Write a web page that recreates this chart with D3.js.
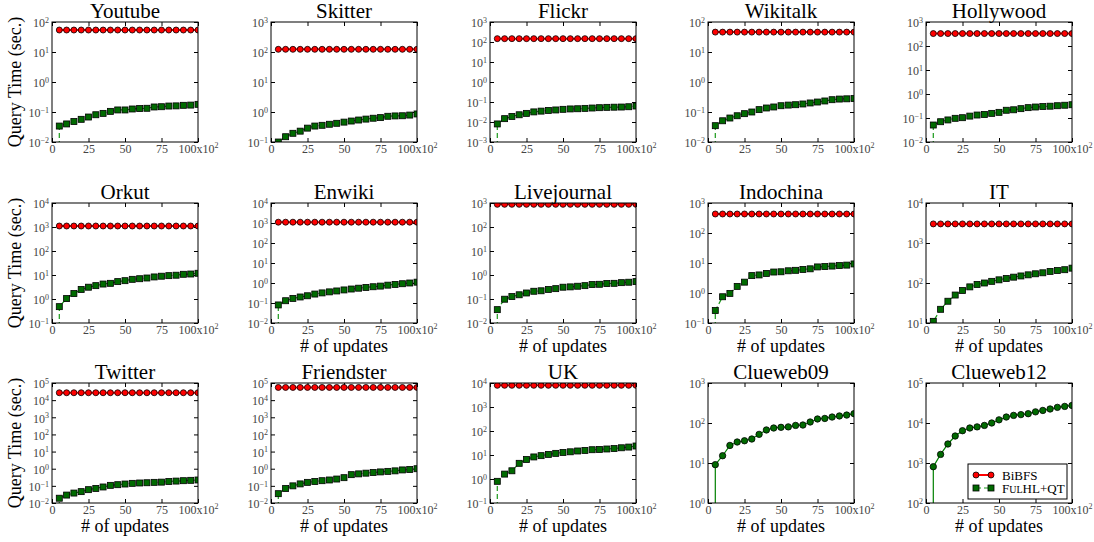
<!DOCTYPE html>
<html>
<head>
<meta charset="utf-8">
<script src="https://cdn.jsdelivr.net/npm/d3@7"></script>
<style>
  html, body { margin: 0; padding: 0; background: #fff; }
  svg { display: block; }
  text { font-family: "Liberation Serif", "DejaVu Serif", serif; }
</style>
</head>
<body>
<svg id="chart" width="1094" height="542"></svg>
<script>
// x positions: number of updates (in hundreds)
const updates = [5, 10, 15, 20, 25, 30, 35, 40, 45, 50, 55, 60, 65, 70, 75, 80, 85, 90, 95, 100];
const xTicks = [0, 25, 50, 75, 100];

const datasets = ["Youtube", "Skitter", "Flickr", "Wikitalk", "Hollywood",
                  "Orkut", "Enwiki", "Livejournal", "Indochina", "IT",
                  "Twitter", "Friendster", "UK", "Clueweb09", "Clueweb12"];

// y-axis range per dataset, as powers of ten
const yLowExp  = [-2, -1, -3, -2, -2, -1, -2, -2, -1, 1, -2, -2, -1, 0, 2];
const yHighExp = [ 2,  3,  3,  2,  3,  4,  4,  3,  3, 4,  5,  5,  4, 3, 5];

// BiBFS query time (sec.)
const bibfsYoutube     = [54, 54, 54, 54, 54, 54, 54, 54, 54, 54, 54, 54, 54, 54, 54, 54, 54, 54, 54, 54];
const bibfsSkitter     = [123, 123, 123, 123, 123, 123, 123, 123, 123, 123, 123, 123, 123, 123, 123, 123, 123, 123, 123, 123];
const bibfsFlickr      = [147, 147, 147, 147, 147, 147, 147, 147, 147, 147, 147, 147, 147, 147, 147, 147, 147, 147, 147, 147];
const bibfsWikitalk    = [46, 46, 46, 46, 46, 46, 46, 46, 46, 46, 46, 46, 46, 46, 46, 46, 46, 46, 46, 46];
const bibfsHollywood   = [330, 330, 330, 330, 330, 330, 330, 330, 330, 330, 330, 330, 330, 330, 330, 330, 330, 330, 330, 330];
const bibfsOrkut       = [1100, 1100, 1100, 1100, 1100, 1100, 1100, 1100, 1100, 1100, 1100, 1100, 1100, 1100, 1100, 1100, 1100, 1100, 1100, 1100];
const bibfsEnwiki      = [1100, 1100, 1100, 1100, 1100, 1100, 1100, 1100, 1100, 1100, 1100, 1100, 1100, 1100, 1100, 1100, 1100, 1100, 1100, 1100];
const bibfsLivejournal = [880, 880, 880, 880, 880, 880, 880, 880, 880, 880, 880, 880, 880, 880, 880, 880, 880, 880, 880, 880];
const bibfsIndochina   = [430, 430, 430, 430, 430, 430, 430, 430, 430, 430, 430, 430, 430, 430, 430, 430, 430, 430, 430, 430];
const bibfsIT          = [3000, 3000, 3000, 3000, 3000, 3000, 3000, 3000, 3000, 3000, 3000, 3000, 3000, 3000, 3000, 3000, 3000, 3000, 3000, 3000];
const bibfsTwitter     = [27000, 27000, 27000, 27000, 27000, 27000, 27000, 27000, 27000, 27000, 27000, 27000, 27000, 27000, 27000, 27000, 27000, 27000, 27000, 27000];
const bibfsFriendster  = [55000, 55000, 55000, 55000, 55000, 55000, 55000, 55000, 55000, 55000, 55000, 55000, 55000, 55000, 55000, 55000, 55000, 55000, 55000, 55000];
const bibfsUK          = [8000, 8000, 8000, 8000, 8000, 8000, 8000, 8000, 8000, 8000, 8000, 8000, 8000, 8000, 8000, 8000, 8000, 8000, 8000, 8000];

// FulHL+QT query time (sec.)
const fulhlYoutube     = [0.034, 0.040, 0.048, 0.057, 0.068, 0.081, 0.090, 0.105, 0.117, 0.117, 0.126, 0.130, 0.133, 0.147, 0.150, 0.158, 0.160, 0.167, 0.170, 0.180];
const fulhlSkitter     = [0.10, 0.15, 0.195, 0.23, 0.29, 0.34, 0.36, 0.39, 0.42, 0.46, 0.50, 0.54, 0.58, 0.62, 0.65, 0.72, 0.74, 0.75, 0.79, 0.86];
const fulhlFlickr      = [0.008, 0.0147, 0.019, 0.023, 0.027, 0.032, 0.035, 0.038, 0.040, 0.043, 0.045, 0.046, 0.048, 0.050, 0.052, 0.054, 0.055, 0.056, 0.058, 0.063];
const fulhlWikitalk    = [0.035, 0.051, 0.063, 0.075, 0.088, 0.10, 0.12, 0.136, 0.147, 0.162, 0.17, 0.175, 0.185, 0.20, 0.215, 0.233, 0.257, 0.27, 0.275, 0.28];
const fulhlHollywood   = [0.051, 0.070, 0.083, 0.097, 0.103, 0.12, 0.133, 0.14, 0.156, 0.172, 0.21, 0.22, 0.245, 0.27, 0.287, 0.30, 0.31, 0.325, 0.34, 0.357];
const fulhlOrkut       = [0.48, 1.04, 1.68, 2.5, 3.1, 3.6, 4.2, 4.5, 5.3, 5.8, 6.6, 7.0, 7.5, 8.3, 8.9, 9.4, 9.8, 10.7, 11.0, 11.8];
const fulhlEnwiki      = [0.08, 0.13, 0.17, 0.2, 0.23, 0.28, 0.32, 0.36, 0.4, 0.45, 0.5, 0.55, 0.6, 0.65, 0.7, 0.78, 0.85, 0.92, 1.0, 1.1];
const fulhlLivejournal = [0.036, 0.098, 0.126, 0.15, 0.178, 0.21, 0.22, 0.25, 0.27, 0.31, 0.32, 0.34, 0.36, 0.40, 0.41, 0.44, 0.45, 0.48, 0.50, 0.53];
const fulhlIndochina   = [0.26, 0.75, 0.97, 1.66, 2.3, 3.8, 4.0, 4.5, 5.0, 5.1, 5.5, 5.7, 6.1, 6.4, 7.4, 7.6, 7.9, 8.2, 8.5, 9.3];
const fulhlIT          = [11, 22, 35, 50, 65, 80, 92, 100, 110, 120, 130, 140, 150, 160, 170, 180, 195, 205, 215, 235];
const fulhlTwitter     = [0.019, 0.029, 0.038, 0.046, 0.060, 0.071, 0.086, 0.107, 0.117, 0.128, 0.14, 0.147, 0.152, 0.16, 0.165, 0.18, 0.19, 0.20, 0.21, 0.22];
const fulhlFriendster  = [0.035, 0.07, 0.1, 0.13, 0.16, 0.18, 0.2, 0.22, 0.25, 0.3, 0.45, 0.5, 0.55, 0.6, 0.65, 0.7, 0.75, 0.85, 0.9, 1.0];
const fulhlUK          = [0.8, 1.6, 2.2, 4.5, 6.5, 8.3, 9.4, 10.6, 11.7, 12.8, 13.6, 14.7, 15.5, 16.6, 17.0, 17.8, 18.5, 20.0, 21.4, 23.7];
const fulhlClueweb09   = [9.1, 15.2, 27.5, 33.5, 36, 39.8, 52, 67, 75, 78, 80, 87, 89, 106, 126, 130, 141, 150, 158, 171];
const fulhlClueweb12   = [808, 1640, 2990, 4730, 6420, 7500, 8000, 8700, 10000, 12000, 14100, 15500, 16200, 17100, 19000, 20600, 22400, 24600, 26000, 27500];

const bibfsSeries = [bibfsYoutube, bibfsSkitter, bibfsFlickr, bibfsWikitalk, bibfsHollywood,
                     bibfsOrkut, bibfsEnwiki, bibfsLivejournal, bibfsIndochina, bibfsIT,
                     bibfsTwitter, bibfsFriendster, bibfsUK, null, null];
const fulhlSeries = [fulhlYoutube, fulhlSkitter, fulhlFlickr, fulhlWikitalk, fulhlHollywood,
                     fulhlOrkut, fulhlEnwiki, fulhlLivejournal, fulhlIndochina, fulhlIT,
                     fulhlTwitter, fulhlFriendster, fulhlUK, fulhlClueweb09, fulhlClueweb12];

// ---- layout ----
const colLeft = [52, 271, 490, 708, 926];
const rowTop = [22, 203, 383];
const plotW = 146, plotH = 120;

const RED = "#ff0000", GREEN = "#008000", DASH_GREEN = "#1a9a1a", MARK_GREEN = "#006a00";
const TICK_TEXT = "#444";
const CIRCLE_R = 3, SQUARE = 6;

const svg = d3.select("#chart");
const defs = svg.append("defs");

const supDigits = e => (e < 0 ? "\u2212" + Math.abs(e) : String(e));

datasets.forEach((name, i) => {
  const r = Math.floor(i / 5), c = i % 5;
  const left = colLeft[c], top = rowTop[r];

  const x = d3.scaleLinear().domain([0, 100]).range([0, plotW]);
  const y = d3.scaleLog().domain([Math.pow(10, yLowExp[i]), Math.pow(10, yHighExp[i])]).range([plotH, 0]);

  const g = svg.append("g").attr("transform", `translate(${left},${top})`);

  const clipId = "clip" + i;
  defs.append("clipPath").attr("id", clipId)
    .append("rect").attr("x", 0).attr("y", 0).attr("width", plotW).attr("height", plotH);

  const decades = d3.range(yLowExp[i], yHighExp[i] + 1).map(e => Math.pow(10, e));

  // left axis with tick labels of the form 10^k
  const yAxis = g.append("g").call(d3.axisLeft(y).tickValues(decades).tickSizeInner(-4).tickSizeOuter(0).tickPadding(3));
  yAxis.select(".domain").remove();
  yAxis.selectAll("line").attr("stroke", "#000");
  yAxis.selectAll("text").each(function(d) {
    const t = d3.select(this);
    const e = Math.round(Math.log10(d));
    t.text(null).attr("font-size", 12).attr("fill", TICK_TEXT).attr("dy", "0.4em");
    t.append("tspan").text("10");
    t.append("tspan").attr("font-size", 8).attr("dy", "-0.55em").text(supDigits(e));
  });

  // right ticks
  g.append("g").attr("transform", `translate(${plotW},0)`)
    .call(d3.axisRight(y).tickValues(decades).tickSizeInner(-4).tickSizeOuter(0).tickFormat(""))
    .call(a => a.select(".domain").remove())
    .selectAll("line").attr("stroke", "#000");

  // bottom axis
  const xAxis = g.append("g").attr("transform", `translate(0,${plotH})`)
    .call(d3.axisBottom(x).tickValues(xTicks).tickSizeInner(-4).tickSizeOuter(0).tickPadding(2));
  xAxis.select(".domain").remove();
  xAxis.selectAll("line").attr("stroke", "#000");
  xAxis.selectAll("text").each(function(d) {
    const t = d3.select(this);
    t.text(null).attr("font-size", 12).attr("fill", TICK_TEXT);
    if (d === 100) {
      t.append("tspan").text("100x10");
      t.append("tspan").attr("font-size", 8).attr("dy", "-0.55em").text("2");
    } else {
      t.text(d);
    }
  });

  // top ticks
  g.append("g")
    .call(d3.axisTop(x).tickValues(xTicks).tickSizeInner(-4).tickSizeOuter(0).tickFormat(""))
    .call(a => a.select(".domain").remove())
    .selectAll("line").attr("stroke", "#000");

  const plot = g.append("g").attr("clip-path", `url(#${clipId})`);

  // BiBFS: red solid line with circles
  const bib = bibfsSeries[i];
  if (bib) {
    const pts = updates.map((u, k) => [u, bib[k]]);
    plot.append("path")
      .attr("d", d3.line().x(d => x(d[0])).y(d => y(d[1]))(pts))
      .attr("fill", "none").attr("stroke", RED).attr("stroke-width", 2);
    plot.selectAll(".bib").data(pts).enter().append("circle")
      .attr("cx", d => x(d[0])).attr("cy", d => y(d[1])).attr("r", CIRCLE_R)
      .attr("fill", RED).attr("stroke", "#000").attr("stroke-width", 0.8);
  }

  // FulHL+QT: green dashed line with squares (solid line with circles on Clueweb);
  // the line enters from below the axis up to the first measurement
  const ful = fulhlSeries[i];
  const solid = !bib;
  const pts = updates.map((u, k) => [u, ful[k]]);
  const pathPts = [[updates[0], null]].concat(pts);
  plot.append("path")
    .attr("d", d3.line()
      .x(d => x(d[0]))
      .y(d => d[1] === null ? plotH + 20 : y(d[1]))(pathPts))
    .attr("fill", "none").attr("stroke", solid ? GREEN : DASH_GREEN)
    .attr("stroke-width", 1.2)
    .attr("stroke-dasharray", solid ? null : "5,3");
  if (solid) {
    plot.selectAll(".ful").data(pts).enter().append("circle")
      .attr("cx", d => x(d[0])).attr("cy", d => y(d[1])).attr("r", CIRCLE_R + 0.2)
      .attr("fill", MARK_GREEN).attr("stroke", "#000").attr("stroke-width", 0.8);
  } else {
    plot.selectAll(".ful").data(pts).enter().append("rect")
      .attr("x", d => x(d[0]) - SQUARE / 2).attr("y", d => y(d[1]) - SQUARE / 2)
      .attr("width", SQUARE).attr("height", SQUARE)
      .attr("fill", MARK_GREEN).attr("stroke", "#000").attr("stroke-width", 0.8);
  }

  // frame
  g.append("rect").attr("width", plotW).attr("height", plotH)
    .attr("fill", "none").attr("stroke", "#000").attr("stroke-width", 1);

  // title
  g.append("text").attr("x", plotW / 2).attr("y", -4).attr("text-anchor", "middle")
    .attr("font-size", 21).attr("fill", "#000").text(name);

  // axis labels
  if (c === 0) {
    g.append("text").attr("transform", `translate(${-31},${plotH / 2}) rotate(-90)`)
      .attr("text-anchor", "middle").attr("font-size", 18).attr("fill", "#000")
      .text("Query Time (sec.)");
  }
  if (r === 2 || (r === 1 && c > 0)) {
    g.append("text").attr("x", plotW / 2).attr("y", plotH + 29).attr("text-anchor", "middle")
      .attr("font-size", 18).attr("fill", "#000").text("# of updates");
  }

  // legend in the last panel
  if (i === datasets.length - 1) {
    const lg = g.append("g").attr("transform", `translate(${968 - left},${464 - top})`);
    lg.append("rect").attr("width", 99).attr("height", 35)
      .attr("fill", "#fff").attr("stroke", "#000").attr("stroke-width", 1);
    const row1 = lg.append("g").attr("transform", "translate(0,11)");
    row1.append("line").attr("x1", 8).attr("x2", 23).attr("stroke", RED).attr("stroke-width", 2);
    [8, 23].forEach(px => row1.append("circle").attr("cx", px).attr("r", CIRCLE_R)
      .attr("fill", RED).attr("stroke", "#000").attr("stroke-width", 0.8));
    row1.append("text").attr("x", 34).attr("dy", "0.35em").attr("font-size", 13).text("BiBFS");

    const row2 = lg.append("g").attr("transform", "translate(0,24)");
    row2.append("line").attr("x1", 8).attr("x2", 23).attr("stroke", DASH_GREEN)
      .attr("stroke-width", 1.2).attr("stroke-dasharray", "5,3");
    [8, 23].forEach(px => row2.append("rect").attr("x", px - SQUARE / 2).attr("y", -SQUARE / 2)
      .attr("width", SQUARE).attr("height", SQUARE)
      .attr("fill", MARK_GREEN).attr("stroke", "#000").attr("stroke-width", 0.8));
    const t = row2.append("text").attr("x", 34).attr("dy", "0.35em").attr("font-size", 13);
    t.append("tspan").text("F");
    t.append("tspan").attr("font-size", 10).text("UL");
    t.append("tspan").text("HL+QT");
  }
});
</script>
</body>
</html>
